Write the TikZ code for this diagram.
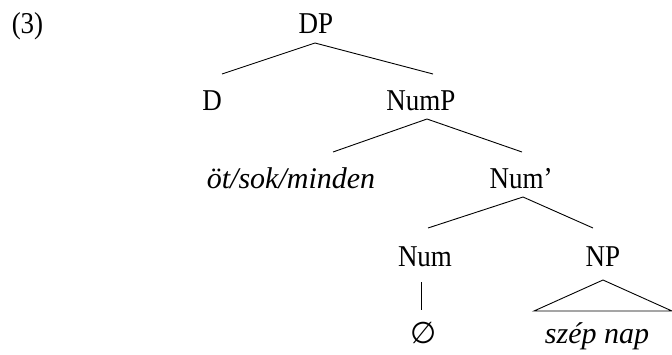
\documentclass[tikz,border=0pt]{standalone}
\usepackage{fontspec}
\usepackage{graphicx}
\setmainfont{Liberation Serif}
\newfontfamily\symbolfont{DejaVu Sans}
\usetikzlibrary{calc}
\newcommand\talltext[1]{\scalebox{1}[1.12]{#1}}
\begin{document}
\begin{tikzpicture}[x=1pt,y=-1pt,
  lab/.style={anchor=base,inner sep=0pt,font=\fontsize{27}{32}\selectfont},
  ilab/.style={anchor=base,inner sep=0pt,font=\fontsize{30}{36}\selectfont\itshape},
  branch/.style={line width=0.9pt}]
\useasboundingbox (0,0) rectangle (672,354);
\node[lab] (ex) at (27.5,33) {\talltext{(3)}};
\node[lab] (dp) at (316,33) {\talltext{DP}};
\node[lab] (d) at (212,110) {\talltext{D}};
\node[lab] (nump) at (421,110) {\talltext{NumP}};
\node[ilab] (oet) at (291,188) {öt/sok/minden};
\node[lab] (numbar) at (521,188) {\talltext{Num’}};
\node[lab] (num) at (425,266) {\talltext{Num}};
\node[lab] (np) at (603,266) {\talltext{NP}};
\node[lab] (null) at (424,343) {\fontsize{30}{34}\symbolfont ∅};
\node[ilab] (szep) at (597,343) {szép nap};
\draw[branch] ($(d.base)+(10,-36)$) -- ($(dp.base)+(-1,10)$) -- ($(nump.base)+(12,-36)$);
\draw[branch] ($(oet.base)+(42,-36)$) -- ($(nump.base)+(6,9)$) -- ($(numbar.base)+(1,-36)$);
\draw[branch] ($(num.base)+(3,-38)$) -- ($(numbar.base)+(2,9)$) -- ($(np.base)+(-10,-38)$);
\draw[branch] ($(num.base)+(-4,16)$) -- ($(null.base)+(-3,-33)$);
\draw[branch] ($(np.base)+(0,14)$) -- ($(szep.base)+(-63,-32)$) -- ($(szep.base)+(75,-32)$) -- cycle;
\end{tikzpicture}
\end{document}
